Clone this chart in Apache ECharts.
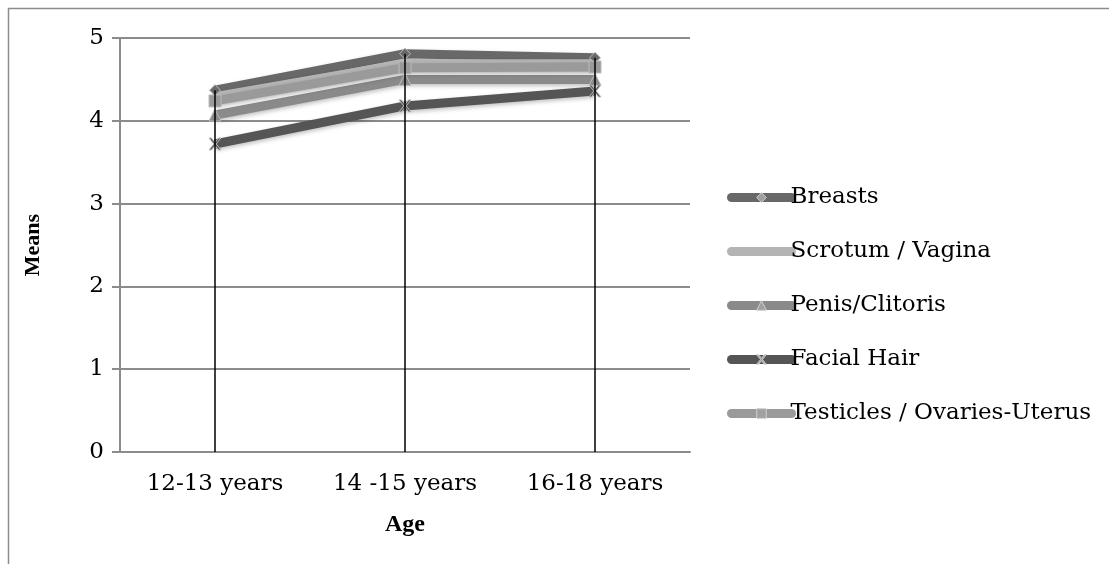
<!DOCTYPE html>
<html>
<head>
<meta charset="utf-8">
<script src="https://cdn.jsdelivr.net/npm/echarts@6/dist/echarts.min.js"></script>
<style>
  html, body { margin: 0; padding: 0; background: #fff; }
  #chart { width: 1109px; height: 564px; }
</style>
</head>
<body>
<div id="chart"></div>
<script>
// categories and means
var ages = ['12-13 years', '14 -15 years', '16-18 years'];
var breasts = [4.37, 4.81, 4.76];
var scrotumVagina = [4.29, 4.69, 4.69];
var penisClitoris = [4.07, 4.50, 4.50];
var facialHair = [3.72, 4.18, 4.36];
var testiclesOvaries = [4.24, 4.64, 4.65];

var serif = 'DejaVu Serif';
var titleFont = 'Liberation Serif';
var xMark = 'path://M0,0 L2,0 L5,3 L8,0 L10,0 L6,4 L10,8 L8,8 L5,5 L2,8 L0,8 L4,4 Z';

var allSeries = [breasts, scrotumVagina, penisClitoris, facialHair, testiclesOvaries];
// drop lines from the highest point down to the axis
var dropLines = ages.map(function (a, i) {
    var top = Math.max.apply(null, allSeries.map(function (s) { return s[i]; }));
    return [{ coord: [i, top] }, { coord: [i, 0] }];
});

function lineSeries(name, data, color, symbol, size) {
    return {
        name: name,
        type: 'line',
        data: data,
        symbol: symbol,
        symbolSize: size,
        showSymbol: symbol !== 'none',
        lineStyle: { color: color, width: 9, shadowColor: 'rgba(0,0,0,0.25)', shadowBlur: 4, shadowOffsetY: 2 },
        itemStyle: { color: color, borderColor: '#bbb', borderWidth: 1 },
        animation: false
    };
}

var chart = echarts.init(document.getElementById('chart'));
var series = [
    lineSeries('Breasts', breasts, '#686868', 'diamond', 11),
    lineSeries('Scrotum / Vagina', scrotumVagina, '#b4b4b4', 'none', 0),
    lineSeries('Penis/Clitoris', penisClitoris, '#8a8a8a', 'triangle', 12),
    lineSeries('Facial Hair', facialHair, '#555555', xMark, 12),
    lineSeries('Testicles / Ovaries-Uterus', testiclesOvaries, '#9a9a9a', 'rect', 12)
];
series[0].markLine = {
    symbol: 'none',
    silent: true,
    label: { show: false },
    lineStyle: { color: '#000', width: 1.5, type: 'solid' },
    data: dropLines
};

var legendData = series.map(function (s) {
    var item = { name: s.name };
    if (s.symbol === 'none') {
        item.itemStyle = { opacity: 0 };
    } else {
        item.itemStyle = { color: '#a0a0a0', borderColor: '#d0d0d0', borderWidth: 1 };
    }
    return item;
});

chart.setOption({
    backgroundColor: '#fff',
    graphic: [{
        type: 'rect',
        shape: { x: 8.5, y: 8.5, width: 1200, height: 600 },
        style: { fill: 'none', stroke: '#8c8c8c', lineWidth: 1.5 },
        silent: true
    }],
    grid: { left: 120, right: 419, top: 38, bottom: 112 },
    xAxis: {
        type: 'category',
        data: ages,
        boundaryGap: true,
        name: 'Age',
        nameLocation: 'middle',
        nameGap: 61,
        nameTextStyle: { fontFamily: titleFont, fontSize: 24, fontWeight: 'bold', color: '#000' },
        axisLine: { lineStyle: { color: '#8c8c8c', width: 2 } },
        axisTick: { show: false },
        axisLabel: { fontFamily: serif, fontSize: 23, color: '#000', margin: 21 }
    },
    yAxis: {
        type: 'value',
        min: 0,
        max: 5,
        interval: 1,
        name: 'Means',
        nameLocation: 'middle',
        nameGap: 76,
        nameTextStyle: { fontFamily: titleFont, fontSize: 22, fontWeight: 'bold', color: '#000' },
        axisLine: { show: true, lineStyle: { color: '#8c8c8c', width: 2 } },
        axisTick: { show: true, length: 8, lineStyle: { color: '#8c8c8c', width: 2 } },
        splitLine: { lineStyle: { color: '#8c8c8c', width: 2 } },
        axisLabel: { fontFamily: serif, fontSize: 23, color: '#000', margin: 16 }
    },
    legend: {
        orient: 'vertical',
        left: 722,
        top: 181,
        itemWidth: 60,
        itemHeight: 12,
        itemGap: 31,
        lineStyle: { width: 9, cap: 'round' },
        textStyle: { fontFamily: serif, fontSize: 23, color: '#000', padding: [0, 0, 0, -6] },
        data: legendData
    },
    series: series
});
</script>
</body>
</html>
